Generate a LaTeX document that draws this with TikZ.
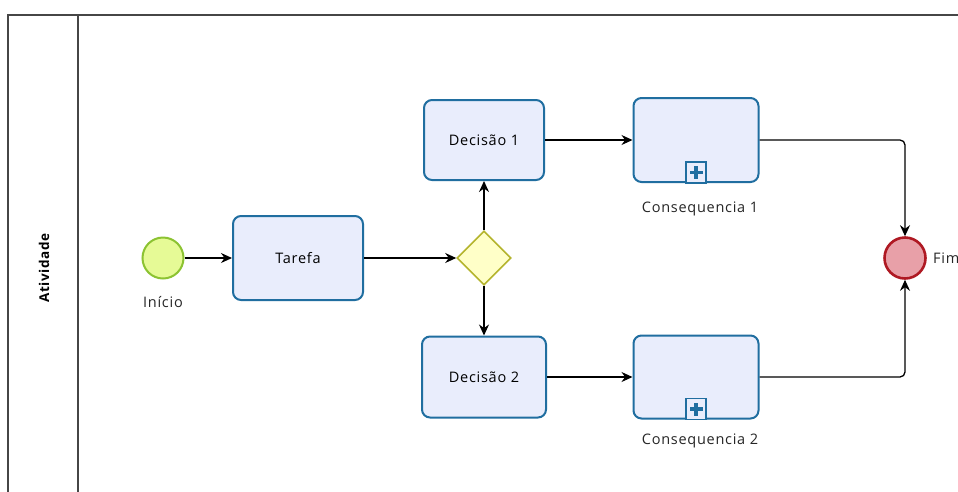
\documentclass[tikz,border=0pt]{standalone}
\usepackage{fontspec}
\setmainfont{Open Sans}[LetterSpace=5]
\usetikzlibrary{arrows.meta,shapes.geometric}
\definecolor{taskfill}{RGB}{233,237,252}
\definecolor{taskline}{RGB}{32,110,160}
\definecolor{startfill}{RGB}{230,250,150}
\definecolor{startline}{RGB}{140,195,50}
\definecolor{endfill}{RGB}{232,160,168}
\definecolor{endline}{RGB}{175,25,35}
\definecolor{gwfill}{RGB}{255,255,200}
\definecolor{gwline}{RGB}{180,180,45}
\definecolor{poolline}{RGB}{70,70,70}
\tikzset{
  x=1pt, y=-1pt,
  every node/.style={font=\fontsize{14.5}{17}\selectfont},
  taskbox/.style={draw=taskline, fill=taskfill, line width=2pt, rounded corners=8pt,
    minimum width=#1, inner sep=0pt},
  startev/.style={circle, draw=startline, fill=startfill, line width=2pt, minimum size=41pt, inner sep=0pt},
  endev/.style={circle, draw=endline, fill=endfill, line width=2.6pt, minimum size=41pt, inner sep=0pt},
  gateway/.style={diamond, draw=gwline, fill=gwfill, line width=1.6pt, minimum size=54pt, inner sep=0pt},
  flow/.style={draw=black, line width=1.3pt, -{Stealth[length=11pt,width=10pt]}},
  lbl/.style={text=black!85},
}
\newcommand{\submarker}[1]{%
  \draw[taskline, line width=1.8pt, fill=taskfill] ([xshift=-10pt]#1.south) rectangle ++(20,-21);
  \fill[taskline] ([xshift=-1.8pt,yshift=4pt]#1.south) rectangle ++(3.6,-13);
  \fill[taskline] ([xshift=-6.5pt,yshift=8.7pt]#1.south) rectangle ++(13,-3.6);
}
\begin{document}
\begin{tikzpicture}
\useasboundingbox (0,0) rectangle (958,491);
\fill[white] (0,0) rectangle (958,491);
% pool and lane
\draw[poolline, line width=1.4pt] (958,15) -- (8,15) -- (8,495);
\draw[poolline, line width=1.4pt] (78,15) -- (78,495);
\node[rotate=90, font=\fontsize{13.5}{16}\selectfont\bfseries] (lane) at (44,268) {Atividade};

% flow elements
\node[startev] (start) at (163,258) {};
\node[lbl] (startlbl) at (163,302) {Início};
\node[taskbox=130pt, minimum height=84pt] (task) at (298,258) {Tarefa};
\node[gateway] (gw) at (484,258) {};
\node[taskbox=120pt, minimum height=80pt] (d1) at (484,140) {Decisão 1};
\node[taskbox=124pt, minimum height=81pt] (d2) at (484,377) {Decisão 2};
\node[taskbox=125pt, minimum height=84pt] (c1) at (696,140) {};
\node[taskbox=125pt, minimum height=83pt] (c2) at (696,377) {};
\submarker{c1}
\submarker{c2}
\node[lbl] (c1lbl) at (700,209) {Consequencia 1};
\node[lbl] (c2lbl) at (700,441) {Consequencia 2};
\node[endev] (end) at (905,258) {};
\node[lbl, anchor=west, inner sep=0pt] (endlbl) at (933,258) {Fim};

% sequence flows
\draw[flow] (start) -- (task);
\draw[flow] (task) -- (gw.west);
\draw[flow] (gw.north) -- (d1.south);
\draw[flow] (gw.south) -- (d2.north);
\draw[flow] (d1) -- (c1);
\draw[flow] (d2) -- (c2);
\draw[flow, rounded corners=5pt] (c1.east) -| (end.north);
\draw[flow, rounded corners=5pt] (c2.east) -| (end.south);
\end{tikzpicture}
\end{document}
